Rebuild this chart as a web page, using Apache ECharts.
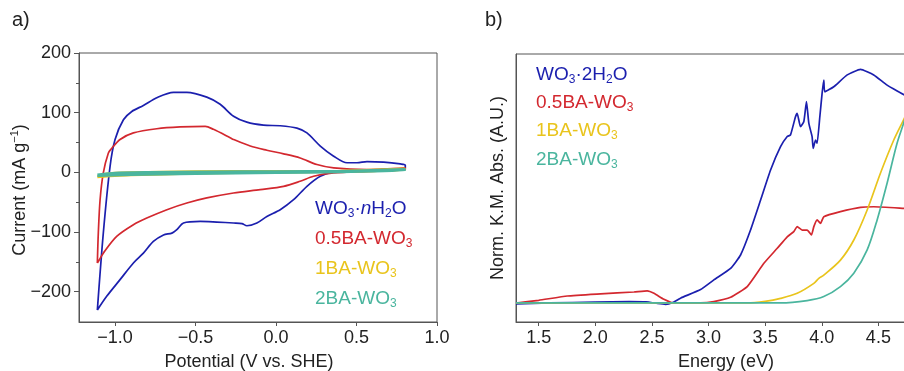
<!DOCTYPE html>
<html>
<head>
<meta charset="utf-8">
<script src="https://cdn.jsdelivr.net/npm/echarts@6/dist/echarts.min.js"></script>
<style>
  html, body { margin: 0; padding: 0; background: #fff; }
  #chart { width: 904px; height: 371px; }
</style>
</head>
<body>
<div id="chart"></div>
<script>
// a) cyclic voltammetry, [potential V vs SHE, current mA/g], traced around each loop
const cvNH2O = [[-1.11,-231],[-1.073,-102],[-1.031,10],[-1.0,55],[-0.948,88],[-0.896,102],[-0.824,112],[-0.741,125],[-0.637,134],[-0.554,134],[-0.43,126],[-0.347,114],[-0.264,94],[-0.181,84],[-0.078,79],[0.026,78],[0.13,74],[0.192,66],[0.275,44],[0.358,27],[0.441,16],[0.503,16],[0.565,18],[0.669,17],[0.772,14],[0.803,12],[0.803,7],[0.669,4.5],[0.462,2.2],[0.358,0.6],[0.275,-6.7],[0.192,-23.5],[0.109,-46],[0.026,-62.7],[-0.057,-74],[-0.119,-85],[-0.181,-89.6],[-0.212,-86],[-0.264,-85],[-0.368,-83.5],[-0.471,-82.4],[-0.575,-85],[-0.616,-96],[-0.647,-102],[-0.699,-105],[-0.762,-116],[-0.824,-135.6],[-0.886,-152],[-0.969,-180],[-1.052,-208],[-1.11,-231]];
const cv05BA = [[-1.11,-152],[-1.104,-102],[-1.093,-46],[-1.073,-1],[-1.042,32],[-1.021,40],[-0.969,55],[-0.886,66],[-0.741,73],[-0.596,76],[-0.44,77],[-0.389,72],[-0.285,58],[-0.264,55],[-0.16,44],[-0.057,37],[0.047,31],[0.15,24],[0.254,13],[0.358,7.3],[0.565,4.5],[0.803,7.3],[0.803,4.5],[0.565,1.7],[0.358,-1.1],[0.233,-6.7],[0.15,-15],[0.047,-23.5],[-0.098,-29],[-0.264,-34.7],[-0.43,-43],[-0.554,-51.5],[-0.678,-62.7],[-0.803,-76.8],[-0.886,-88],[-0.99,-107.6],[-1.073,-135.6],[-1.104,-149.6],[-1.11,-152]];
const cv1BA = [[-1.11,-7],[-1.05,-2],[-0.9,0],[-0.5,1.5],[0,2],[0.4,2.5],[0.8,6],[0.8,4],[0.4,1],[0,-0.5],[-0.5,-2],[-0.9,-5],[-1.11,-8]];
const cv2BA = [[-1.11,-4],[-1.0,-1],[-0.8,0],[-0.4,1],[0,1.5],[0.4,2],[0.8,5],[0.8,3],[0.4,0.5],[0,-1],[-0.5,-2.5],[-0.9,-4],[-1.11,-6]];

// b) normalised Kubelka-Munk absorbance, [energy eV, abs (arb.)]
const absDihydrate = [[1.3,-0.3],[1.6,0],[2.0,0.3],[2.3,0.5],[2.45,0.4],[2.55,-0.2],[2.62,-0.5],[2.69,0.3],[2.753,1.8],[2.93,5],[3.047,8.6],[3.195,12.9],[3.283,17.9],[3.371,27.2],[3.46,38.4],[3.548,49.6],[3.636,58.3],[3.695,62.1],[3.724,62.7],[3.768,69.5],[3.783,70.8],[3.812,65.8],[3.842,67.7],[3.865,75.1],[3.886,67],[3.915,62],[3.924,57.7],[3.945,60.8],[3.959,59.6],[3.983,69.5],[4.003,78.2],[4.018,83.2],[4.027,78.8],[4.106,80.7],[4.225,85.1],[4.342,87.2],[4.459,85.1],[4.577,81.3],[4.73,77.6],[4.8,75.5]];
const abs05BA = [[1.3,0],[1.5,1],[1.753,2.6],[2.047,3.4],[2.341,4.1],[2.459,4.5],[2.518,3.6],[2.606,1.4],[2.694,0],[2.93,0],[3.047,0.5],[3.195,2.1],[3.342,6.1],[3.489,14.8],[3.607,20.4],[3.695,24.7],[3.753,26.6],[3.783,28.5],[3.827,27.2],[3.871,27.2],[3.909,25.4],[3.93,28.5],[3.959,31],[3.989,29.7],[4.018,32.2],[4.165,34.1],[4.342,35.7],[4.459,35.9],[4.73,35.3],[4.8,35.1]];
const abs1BA = [[1.3,0],[3.342,0],[3.5,0.6],[3.636,1.7],[3.783,3.6],[3.93,7.3],[3.974,9.2],[4.018,10.4],[4.165,16],[4.283,23.5],[4.401,34.7],[4.518,48.4],[4.636,60.8],[4.73,69],[4.8,76]];
const abs2BA = [[1.3,0],[3.636,0],[3.871,0.9],[4.018,2.4],[4.165,6.1],[4.283,11.1],[4.401,19.8],[4.489,31],[4.577,44.7],[4.665,59.6],[4.73,68],[4.8,78]];

const potentialTicks = [-1.0, -0.5, 0, 0.5, 1.0];
const currentLabels = [-200, -100, 0, 100, 200];
const currentMinorTicks = [-200, -150, -100, -50, 0, 50, 100, 150, 200];
const energyTicks = [1.5, 2.0, 2.5, 3.0, 3.5, 4.0, 4.5, 5.0];

const BLUE = '#1b1fae', RED = '#d3282f', YELLOW = '#e9c41c', TEAL = '#4ab59e';
const FONT = '"Liberation Sans", Arial, sans-serif';
const AXIS = '#555';

const minus = v => (v < 0 ? '\u2212' : '') + Math.abs(v);
const minus1 = v => (v < 0 ? '\u2212' : '') + Math.abs(v).toFixed(1);

const richLegend = {
  m: { fontSize: 19, lineHeight: 22, fontFamily: FONT },
  i: { fontSize: 19, lineHeight: 22, fontFamily: FONT, fontStyle: 'italic' },
  s: { fontSize: 12, lineHeight: 10, fontFamily: FONT, verticalAlign: 'bottom' }
};
const richTitle = {
  m: { fontSize: 18, lineHeight: 22, fontFamily: FONT },
  sup: { fontSize: 11, lineHeight: 22, fontFamily: FONT, verticalAlign: 'top' }
};

function label(text, x, y, color, rich) {
  return {
    type: 'text', x: x, y: y, silent: true,
    style: { text: text, fill: color, rich: rich, align: 'left', verticalAlign: 'middle', font: '19px ' + FONT }
  };
}

function lineSeries(data, color, xi, yi, smooth, width) {
  return {
    type: 'line', data: data, xAxisIndex: xi, yAxisIndex: yi,
    showSymbol: false, smooth: smooth, animation: false,
    lineStyle: { color: color, width: width || 1.7 }
  };
}

const chart = echarts.init(document.getElementById('chart'), null, { renderer: 'canvas' });

chart.setOption({
  backgroundColor: '#fff',
  animation: false,
  textStyle: { fontFamily: FONT },
  grid: [
    { left: 79, top: 53, width: 358, height: 269, outerBoundsMode: 'none', containLabel: false,
      show: true, borderColor: AXIS, borderWidth: 1, backgroundColor: 'transparent' },
    { left: 516, top: 54, width: 419, height: 268, outerBoundsMode: 'none', containLabel: false,
      show: true, borderColor: AXIS, borderWidth: 1, backgroundColor: 'transparent' }
  ],
  xAxis: [
    {
      type: 'value', gridIndex: 0, min: -1.224, max: 1.0,
      axisLine: { onZero: false, lineStyle: { color: AXIS } },
      axisTick: { show: true, length: 4, customValues: potentialTicks, lineStyle: { color: AXIS } },
      axisLabel: { customValues: potentialTicks, formatter: minus1, fontSize: 18, color: '#222', margin: 7, fontFamily: FONT },
      splitLine: { show: false }
    },
    {
      type: 'value', gridIndex: 1, min: 1.3, max: 5.0,
      axisLine: { onZero: false, lineStyle: { color: AXIS } },
      axisTick: { show: true, length: 4, customValues: energyTicks, lineStyle: { color: AXIS } },
      axisLabel: { customValues: energyTicks, formatter: v => v.toFixed(1), fontSize: 18, color: '#222', margin: 7, fontFamily: FONT },
      splitLine: { show: false }
    }
  ],
  yAxis: [
    {
      type: 'value', gridIndex: 0, position: 'left', min: -251, max: 200,
      axisLine: { show: true, onZero: false, lineStyle: { color: AXIS } },
      axisTick: { show: true, length: 3, customValues: currentMinorTicks, lineStyle: { color: AXIS } },
      axisLabel: { customValues: currentLabels, formatter: minus, fontSize: 18, color: '#222', margin: 8, fontFamily: FONT },
      splitLine: { show: false }
    },
    {
      type: 'value', gridIndex: 0, position: 'left', offset: 0, min: -251, max: 200,
      axisLine: { show: false, onZero: false },
      axisTick: { show: true, length: 5, customValues: currentLabels, lineStyle: { color: AXIS } },
      axisLabel: { show: false },
      splitLine: { show: false }
    },
    {
      type: 'value', gridIndex: 1, position: 'left', min: -7.1, max: 92.9,
      axisLine: { show: true, onZero: false, lineStyle: { color: AXIS } },
      axisTick: { show: false }, axisLabel: { show: false },
      splitLine: { show: false }
    }
  ],
  series: [
    lineSeries(cvNH2O, BLUE, 0, 0, 0.3),
    lineSeries(cv05BA, RED, 0, 0, 0.3),
    lineSeries(cv1BA, YELLOW, 0, 0, 0.2, 2.2),
    lineSeries(cv2BA, TEAL, 0, 0, 0.2, 2.4),
    lineSeries(absDihydrate, BLUE, 1, 2, 0.15),
    lineSeries(abs05BA, RED, 1, 2, 0.15),
    lineSeries(abs1BA, YELLOW, 1, 2, 0.3),
    lineSeries(abs2BA, TEAL, 1, 2, 0.3)
  ],
  graphic: [
    { type: 'text', x: 12, y: 20, silent: true,
      style: { text: 'a)', fill: '#222', font: '20px ' + FONT, align: 'left', verticalAlign: 'middle' } },
    { type: 'text', x: 485, y: 20, silent: true,
      style: { text: 'b)', fill: '#222', font: '20px ' + FONT, align: 'left', verticalAlign: 'middle' } },

    // axis titles
    { type: 'text', x: 249, y: 362, silent: true,
      style: { text: 'Potential (V vs. SHE)', fill: '#222', font: '18px ' + FONT, align: 'center', verticalAlign: 'middle' } },
    { type: 'text', x: 726, y: 362, silent: true,
      style: { text: 'Energy (eV)', fill: '#222', font: '18px ' + FONT, align: 'center', verticalAlign: 'middle' } },
    { type: 'text', x: 20, y: 190, rotation: Math.PI / 2, silent: true,
      style: { text: '{m|Current (mA g}{sup|\u22121}{m|)}', rich: richTitle, fill: '#222', align: 'center', verticalAlign: 'middle' } },
    { type: 'text', x: 498, y: 188, rotation: Math.PI / 2, silent: true,
      style: { text: 'Norm. K.M. Abs. (A.U.)', fill: '#222', font: '18px ' + FONT, align: 'center', verticalAlign: 'middle' } },

    // panel a legend
    label('{m|WO}{s|3}{m|\u00b7}{i|n}{m|H}{s|2}{m|O}', 315, 209, BLUE, richLegend),
    label('{m|0.5BA-WO}{s|3}', 315, 239, RED, richLegend),
    label('{m|1BA-WO}{s|3}', 315, 269, YELLOW, richLegend),
    label('{m|2BA-WO}{s|3}', 315, 299, TEAL, richLegend),

    // panel b legend
    label('{m|WO}{s|3}{m|\u00b72H}{s|2}{m|O}', 536, 75, BLUE, richLegend),
    label('{m|0.5BA-WO}{s|3}', 536, 103, RED, richLegend),
    label('{m|1BA-WO}{s|3}', 536, 131, YELLOW, richLegend),
    label('{m|2BA-WO}{s|3}', 536, 160, TEAL, richLegend)
  ]
});
</script>
</body>
</html>
